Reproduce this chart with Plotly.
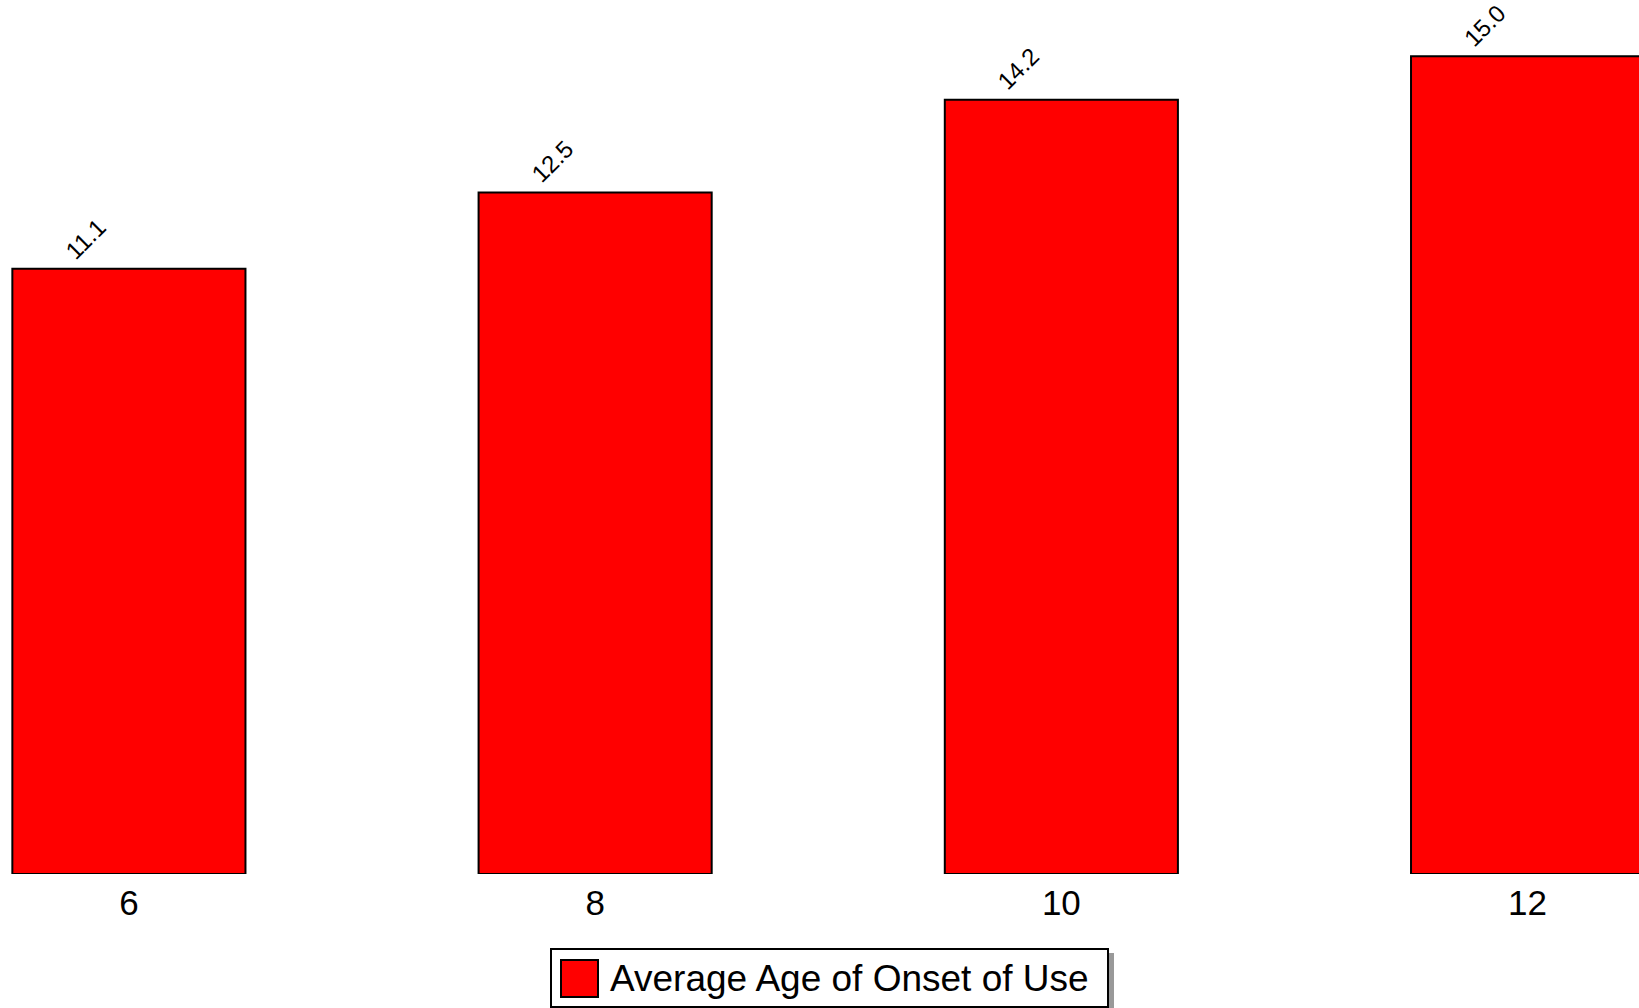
import plotly.graph_objects as go

# ---- data ----
ages = [6, 8, 10, 12]
onset_age = [11.1, 12.5, 14.2, 15.0]
series_name = "Average Age of Onset of Use"

W, H = 1639, 1008
M_B = 134
PLOT_H = H - M_B

FONT = "Liberation Sans, Arial, Helvetica, sans-serif"


def px_x(px):
    return px / W


def px_y(py):
    return (PLOT_H - py) / PLOT_H


fig = go.Figure()
fig.add_trace(go.Bar(
    x=ages, y=onset_age, name=series_name, width=1.0,
    marker=dict(color="#FF0000", line=dict(color="#000000", width=2)),
    showlegend=False, hoverinfo="skip",
))

annotations = []
for a, v in zip(ages, onset_age):
    annotations.append(dict(
        x=a, y=v, xref="x", yref="y", text=f"{v:.1f}", showarrow=False,
        textangle=-45, xanchor="center", yanchor="bottom",
        xshift=-43, yshift=2,
        font=dict(family=FONT, size=24, color="#000000"),
    ))

# legend (drawn manually for a large swatch)
annotations.append(dict(
    x=px_x(608), y=px_y(978), xref="paper", yref="paper", text=series_name,
    showarrow=False, xanchor="left", yanchor="middle",
    font=dict(family=FONT, size=37, color="#000000"),
))

shapes = [
    dict(type="rect", xref="paper", yref="paper",
         x0=px_x(1108), x1=px_x(1114), y0=px_y(953), y1=px_y(1010),
         fillcolor="#999999", line=dict(width=0), layer="above"),
    dict(type="rect", xref="paper", yref="paper",
         x0=px_x(551), x1=px_x(1108), y0=px_y(949), y1=px_y(1007),
         fillcolor="#FFFFFF", line=dict(color="#000000", width=2), layer="above"),
    dict(type="rect", xref="paper", yref="paper",
         x0=px_x(561), x1=px_x(598), y0=px_y(960), y1=px_y(997),
         fillcolor="#FF0000", line=dict(color="#000000", width=2), layer="above"),
]

fig.update_layout(
    width=W, height=H,
    margin=dict(l=0, r=0, t=0, b=M_B, pad=0),
    paper_bgcolor="#FFFFFF", plot_bgcolor="#FFFFFF",
    annotations=annotations, shapes=shapes,
    showlegend=False,
    font=dict(family=FONT, color="#000000"),
)
fig.update_xaxes(
    range=[5.447, 12.478], tickvals=ages, ticktext=[str(a) for a in ages],
    showgrid=False, zeroline=False, showline=False, ticks="",
    tickfont=dict(family=FONT, size=35, color="#000000"),
    ticklabelstandoff=5,
)
fig.update_yaxes(
    range=[0, 16.03], visible=False, showgrid=False, zeroline=False,
)

fig.write_html(
    "out.html",
    config={"displayModeBar": False},
    post_script="document.body.style.margin='0px';"
                "document.documentElement.style.overflow='hidden';",
)
